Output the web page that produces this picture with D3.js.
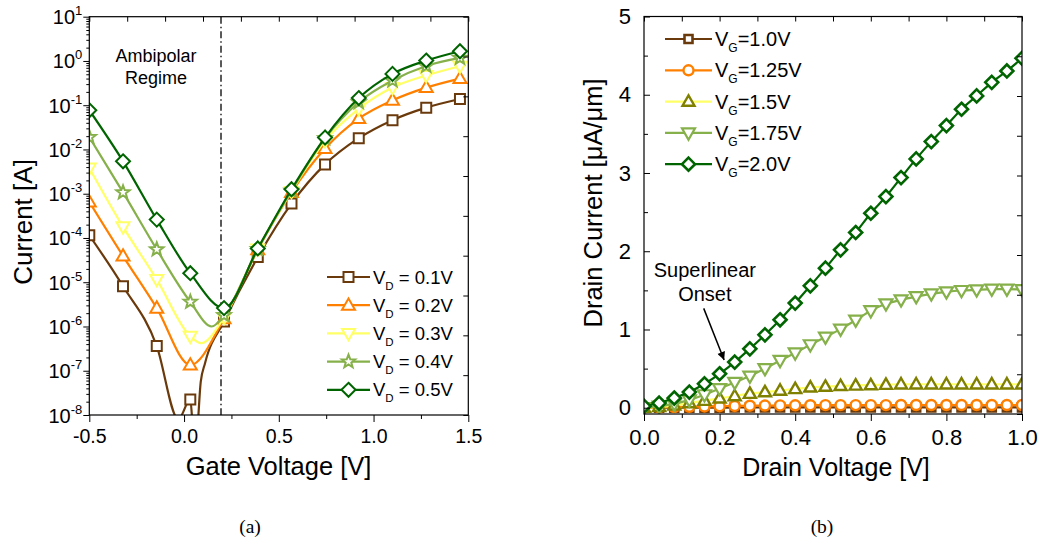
<!DOCTYPE html>
<html>
<head>
<meta charset="utf-8">
<script src="https://cdn.jsdelivr.net/npm/d3@7/dist/d3.min.js"></script>
<style>
html,body{margin:0;padding:0;background:#fff;}
svg{display:block;}
</style>
</head>
<body>
<svg id="chart" width="1042" height="546"></svg>
<script>
// ===================== Panel (a) data : Id - Vg (log) =====================
const gateVoltage = [-0.5, -0.322, -0.144, 0.033, 0.211, 0.389, 0.567, 0.744, 0.922, 1.1, 1.278, 1.456];
const vdLabels = ["0.1V", "0.2V", "0.3V", "0.4V", "0.5V"];
const currentVd01 = [1.15e-4, 8.1e-6, 3.6e-7, 2.25e-8, 1.3e-6, 3.7e-5, 6.0e-4, 4.6e-3, 1.8e-2, 4.6e-2, 8.8e-2, 1.38e-1];
const currentVd02 = [6.5e-4, 3.9e-5, 2.6e-6, 1.35e-7, 1.5e-6, 5.4e-5, 1.07e-3, 1.05e-2, 5.0e-2, 1.29e-1, 2.5e-1, 4.0e-1];
const currentVd03 = [3.8e-3, 1.78e-4, 1.15e-5, 6.0e-7, 1.6e-6, 5.6e-5, 1.12e-3, 1.58e-2, 8.3e-2, 2.5e-1, 4.7e-1, 7.6e-1];
const currentVd04 = [1.9e-2, 1.07e-3, 5.5e-5, 3.6e-6, 1.8e-6, 5.6e-5, 1.17e-3, 1.78e-2, 1.17e-1, 3.6e-1, 7.7e-1, 1.17];
const currentVd05 = [7.7e-2, 5.4e-3, 2.6e-4, 1.6e-5, 2.6e-6, 5.8e-5, 1.26e-3, 1.86e-2, 1.45e-1, 5.1e-1, 1.02, 1.66];
// extra measured points of the curves between the markers ([Vg, I])
const extraVd01 = [[-0.03, 8e-9], [0.05, 4e-9], [0.066, 4e-9], [0.088, 5.6e-8], [0.111, 1.5e-7]];
const extraVd02 = [];
const extraVd03 = [[0.09, 4.2e-7]];
const extraVd04 = [[0.146, 1.0e-6]];
const extraVd05 = [];
const ambipolarBoundary = 0.195;
const xTicksA = [-0.5, 0, 0.5, 1.0, 1.5];
const xMinorA = [-0.25, 0.25, 0.75, 1.25];
const yTicksA = [1e-8, 1e-7, 1e-6, 1e-5, 1e-4, 1e-3, 1e-2, 1e-1, 1e0, 1e1];

// ===================== Panel (b) data : Id - Vd (linear) =====================
const drainVoltage = [0, 0.04, 0.08, 0.12, 0.16, 0.2, 0.24, 0.28, 0.32, 0.36, 0.4, 0.44, 0.48, 0.52, 0.56, 0.6, 0.64, 0.68, 0.72, 0.76, 0.8, 0.84, 0.88, 0.92, 0.96, 1.0];
const vgLabels = ["1.0V", "1.25V", "1.5V", "1.75V", "2.0V"];
const currentVg10 = [0, 0, 0.001, 0.001, 0.002, 0.002, 0.003, 0.003, 0.004, 0.004, 0.004, 0.005, 0.005, 0.005, 0.005, 0.005, 0.005, 0.005, 0.005, 0.005, 0.005, 0.005, 0.005, 0.005, 0.005, 0.005];
const currentVg125 = [0, 0.004, 0.008, 0.012, 0.016, 0.02, 0.023, 0.026, 0.028, 0.03, 0.031, 0.032, 0.033, 0.033, 0.034, 0.034, 0.034, 0.035, 0.035, 0.035, 0.035, 0.035, 0.035, 0.035, 0.035, 0.035];
const currentVg15 = [0, 0.01, 0.03, 0.06, 0.09, 0.12, 0.15, 0.18, 0.2, 0.22, 0.24, 0.26, 0.27, 0.28, 0.285, 0.29, 0.295, 0.3, 0.3, 0.3, 0.3, 0.3, 0.3, 0.3, 0.3, 0.3];
const currentVg175 = [0, 0.02, 0.05, 0.1, 0.166, 0.245, 0.325, 0.405, 0.5, 0.605, 0.7, 0.805, 0.903, 1.005, 1.12, 1.24, 1.328, 1.379, 1.42, 1.456, 1.481, 1.498, 1.507, 1.516, 1.516, 1.51];
const currentVg20 = [0.02, 0.06, 0.124, 0.2, 0.306, 0.434, 0.583, 0.753, 0.932, 1.124, 1.337, 1.558, 1.784, 2.018, 2.24, 2.486, 2.699, 2.941, 3.18, 3.401, 3.606, 3.815, 3.985, 4.159, 4.304, 4.466];
const xTicksB = [0, 0.2, 0.4, 0.6, 0.8, 1.0];
const xMinorB = [0.1, 0.3, 0.5, 0.7, 0.9];
const yTicksB = [0, 1, 2, 3, 4, 5];
const yMinorB = [0.5, 1.5, 2.5, 3.5, 4.5];

// ===================== drawing =====================
const SANS = "'Liberation Sans', Arial, Helvetica, sans-serif";
const SERIF = "'Liberation Serif', 'DejaVu Serif', serif";
const svg = d3.select("#chart");
const defs = svg.append("defs");

function markerPath(type, s) {
  const h = s * 0.87;
  switch (type) {
    case "square": return `M${-s/2},${-s/2}h${s}v${s}h${-s}Z`;
    case "diamond": return `M0,${-s/2}L${s/2},0L0,${s/2}L${-s/2},0Z`;
    case "triUp": return `M0,${-h*0.6}L${s/2},${h*0.4}L${-s/2},${h*0.4}Z`;
    case "triDown": return `M0,${h*0.6}L${s/2},${-h*0.4}L${-s/2},${-h*0.4}Z`;
    case "circle": { const r = s/2; return `M${r},0A${r},${r} 0 1,1 ${-r},0A${r},${r} 0 1,1 ${r},0Z`; }
    case "star": {
      const R = s/2, r = s*0.21; let p = "";
      for (let k = 0; k < 10; k++) {
        const rad = k % 2 ? r : R, a = -Math.PI/2 + k*Math.PI/5;
        p += (k ? "L" : "M") + (rad*Math.cos(a)).toFixed(2) + "," + (rad*Math.sin(a)).toFixed(2);
      }
      return p + "Z";
    }
  }
}
function styleAxis(g) {
  g.select(".domain").remove();
  g.selectAll("line").attr("stroke", "#000").attr("stroke-width", 1);
  g.attr("font-family", SANS);
}

// ---------- Panel (a)
const A = {left: 89.3, right: 468.3, top: 16.7, bottom: 415};
const xA = d3.scaleLinear().domain([-0.5, 1.5]).range([A.left, A.right]);
const yA = d3.scaleLog().domain([1e-8, 10]).range([A.bottom, A.top]);
defs.append("clipPath").attr("id", "clipA").append("rect")
  .attr("x", A.left).attr("y", A.top).attr("width", A.right - A.left).attr("height", A.bottom - A.top);

const seriesA = [
  {label: vdLabels[0], values: currentVd01, extra: extraVd01, color: "#6b3a0c", marker: "square", size: 10},
  {label: vdLabels[1], values: currentVd02, extra: extraVd02, color: "#ff8000", marker: "triUp", size: 13},
  {label: vdLabels[2], values: currentVd03, extra: extraVd03, color: "#ffff66", marker: "triDown", size: 13},
  {label: vdLabels[3], values: currentVd04, extra: extraVd04, color: "#86b04a", marker: "star", size: 14},
  {label: vdLabels[4], values: currentVd05, extra: extraVd05, color: "#006400", marker: "diamond", size: 14}
];
const lineA = d3.line().x(d => xA(d[0])).y(d => yA(d[1])).curve(d3.curveMonotoneX);
const plotA = svg.append("g").attr("clip-path", "url(#clipA)");
plotA.append("line")
  .attr("x1", xA(ambipolarBoundary)).attr("x2", xA(ambipolarBoundary))
  .attr("y1", A.top).attr("y2", A.bottom)
  .attr("stroke", "#000").attr("stroke-width", 1.3).attr("stroke-dasharray", "7,3,1.5,3");
seriesA.forEach(s => {
  const marks = gateVoltage.map((v, i) => [v, s.values[i]]);
  const pts = marks.concat(s.extra).sort((a, b) => a[0] - b[0]);
  plotA.append("path").attr("d", lineA(pts)).attr("fill", "none")
    .attr("stroke", s.color).attr("stroke-width", 2.2);
  plotA.selectAll(null).data(marks).join("path")
    .attr("transform", d => `translate(${xA(d[0])},${yA(d[1])})`)
    .attr("d", markerPath(s.marker, s.size))
    .attr("fill", "#fff").attr("stroke", s.color).attr("stroke-width", 2);
});

// axes (a)
svg.append("g").attr("transform", `translate(0,${A.bottom})`)
  .call(d3.axisBottom(xA).tickValues(xTicksA).tickSize(7).tickPadding(7).tickFormat(d => d.toFixed(1)))
  .call(styleAxis).selectAll("text").attr("font-size", 19.5).attr("fill", "#000");
svg.append("g").attr("transform", `translate(0,${A.bottom})`)
  .call(d3.axisBottom(xA).tickValues(xMinorA).tickSize(4).tickFormat(""))
  .call(styleAxis);
svg.append("g").attr("transform", `translate(${A.left},0)`)
  .call(d3.axisLeft(yA).tickValues(yTicksA).tickSize(6).tickFormat(""))
  .call(styleAxis);
const yMinorA = yTicksA.slice(0, -1).flatMap(d => [2, 3, 4, 5, 6, 7, 8, 9].map(m => d * m));
svg.append("g").attr("transform", `translate(${A.left},0)`)
  .call(d3.axisLeft(yA).tickValues(yMinorA).tickSize(3).tickFormat(""))
  .call(styleAxis);
const frameDivA_y = d3.scaleLinear().domain([0, 10]).range([A.bottom, A.top]);
const frameDivA_x = d3.scaleLinear().domain([0, 10]).range([A.left, A.right]);
svg.append("g").attr("transform", `translate(${A.right},0)`)
  .call(d3.axisRight(frameDivA_y).ticks(10).tickSize(-5).tickFormat("")).call(styleAxis);
svg.append("g").attr("transform", `translate(0,${A.top})`)
  .call(d3.axisTop(frameDivA_x).ticks(10).tickSize(-5).tickFormat("")).call(styleAxis);
const yLabA = svg.append("g").attr("font-family", SANS).attr("fill", "#000");
yTicksA.forEach(d => {
  const t = yLabA.append("text").attr("x", A.left - 7).attr("y", yA(d) + 7.5)
    .attr("text-anchor", "end").attr("font-size", 20);
  t.append("tspan").text("10");
  t.append("tspan").attr("font-size", 13).attr("dy", -9).text(String(Math.round(Math.log10(d))));
});
svg.append("rect").attr("x", A.left).attr("y", A.top).attr("width", A.right - A.left)
  .attr("height", A.bottom - A.top).attr("fill", "none").attr("stroke", "#000").attr("stroke-width", 1.2);

// annotation (a)
const ambiText = [["Ambipolar", -0.148, 0.93], ["Regime", -0.148, 0.296]];
svg.selectAll(null).data(ambiText).join("text")
  .attr("x", d => xA(d[1])).attr("y", d => yA(d[2])).attr("text-anchor", "middle")
  .attr("font-family", SANS).attr("font-size", 18).text(d => d[0]);

// legend (a)
const legA = svg.append("g").attr("font-family", SANS);
seriesA.forEach((s, i) => {
  const y = 277 + i * 28.2;
  legA.append("line").attr("x1", 327).attr("x2", 370).attr("y1", y).attr("y2", y)
    .attr("stroke", s.color).attr("stroke-width", 2.2);
  legA.append("path").attr("transform", `translate(348.5,${y})`).attr("d", markerPath(s.marker, s.size))
    .attr("fill", "#fff").attr("stroke", s.color).attr("stroke-width", 2);
  const t = legA.append("text").attr("x", 373).attr("y", y + 6.6).attr("font-size", 18.5);
  t.append("tspan").text("V");
  t.append("tspan").attr("font-size", 11.5).attr("dy", 6).text("D");
  t.append("tspan").attr("dy", -6).text(" = " + s.label);
});

// titles (a)
svg.append("text").attr("transform", "translate(32,222) rotate(-90)").attr("text-anchor", "middle")
  .attr("font-family", SANS).attr("font-size", 26).text("Current [A]");
svg.append("text").attr("x", 278.5).attr("y", 475).attr("text-anchor", "middle")
  .attr("font-family", SANS).attr("font-size", 25.5).text("Gate Voltage [V]");
svg.append("text").attr("x", 250).attr("y", 533).attr("text-anchor", "middle")
  .attr("font-family", SERIF).attr("font-size", 19.5).text("(a)");

// ---------- Panel (b)
const B = {left: 644, right: 1022, top: 16.5, bottom: 414};
const xB = d3.scaleLinear().domain([0, 1]).range([B.left, B.right]);
const yB = d3.scaleLinear().domain([-0.08, 5]).range([B.bottom, B.top]);
defs.append("clipPath").attr("id", "clipB").append("rect")
  .attr("x", B.left).attr("y", B.top).attr("width", B.right - B.left).attr("height", B.bottom - B.top);

const seriesB = [
  {label: vgLabels[0], values: currentVg10, color: "#6b3a0c", mcolor: "#6b3a0c", marker: "square", size: 8, sw: 2.6},
  {label: vgLabels[1], values: currentVg125, color: "#ff8000", mcolor: "#ff8000", marker: "circle", size: 10, sw: 2.4},
  {label: vgLabels[2], values: currentVg15, color: "#ffff66", mcolor: "#808000", marker: "triUp", size: 12, sw: 2.4},
  {label: vgLabels[3], values: currentVg175, color: "#86b04a", mcolor: "#86b04a", marker: "triDown", size: 13, sw: 2.2},
  {label: vgLabels[4], values: currentVg20, color: "#006400", mcolor: "#006400", marker: "diamond", size: 13, sw: 2.6}
];
const lineB = d3.line().x(d => xB(d[0])).y(d => yB(d[1])).curve(d3.curveMonotoneX);
const plotB = svg.append("g").attr("clip-path", "url(#clipB)");
seriesB.forEach(s => {
  const pts = drainVoltage.map((v, i) => [v, s.values[i]]);
  plotB.append("path").attr("d", lineB(pts)).attr("fill", "none")
    .attr("stroke", s.color).attr("stroke-width", 2.2);
  plotB.selectAll(null).data(pts).join("path")
    .attr("transform", d => `translate(${xB(d[0])},${yB(d[1])})`)
    .attr("d", markerPath(s.marker, s.size))
    .attr("fill", "#fff").attr("stroke", s.mcolor).attr("stroke-width", s.sw);
});

// axes (b)
svg.append("g").attr("transform", `translate(0,${B.bottom})`)
  .call(d3.axisBottom(xB).tickValues(xTicksB).tickSize(7).tickPadding(8).tickFormat(d => d.toFixed(1)))
  .call(styleAxis).selectAll("text").attr("font-size", 22).attr("fill", "#000");
svg.append("g").attr("transform", `translate(0,${B.bottom})`)
  .call(d3.axisBottom(xB).tickValues(xMinorB).tickSize(4).tickFormat(""))
  .call(styleAxis);
svg.append("g").attr("transform", `translate(${B.left},0)`)
  .call(d3.axisLeft(yB).tickValues(yTicksB).tickSize(-6).tickPadding(13).tickFormat(d => String(d)))
  .call(styleAxis).selectAll("text").attr("font-size", 22).attr("fill", "#000");
svg.append("g").attr("transform", `translate(${B.left},0)`)
  .call(d3.axisLeft(yB).tickValues(yMinorB).tickSize(-4).tickFormat(""))
  .call(styleAxis);
const frameDivB_y = d3.scaleLinear().domain([0, 10]).range([B.bottom, B.top]);
const frameDivB_x = d3.scaleLinear().domain([0, 10]).range([B.left, B.right]);
svg.append("g").attr("transform", `translate(${B.right},0)`)
  .call(d3.axisRight(frameDivB_y).ticks(10).tickSize(-5).tickFormat("")).call(styleAxis);
svg.append("g").attr("transform", `translate(0,${B.top})`)
  .call(d3.axisTop(frameDivB_x).ticks(10).tickSize(-5).tickFormat("")).call(styleAxis);
svg.append("rect").attr("x", B.left).attr("y", B.top).attr("width", B.right - B.left)
  .attr("height", B.bottom - B.top).attr("fill", "none").attr("stroke", "#000").attr("stroke-width", 1.2);

// annotation (b)
const superText = [["Superlinear", 0.161, 1.67], ["Onset", 0.161, 1.36]];
svg.selectAll(null).data(superText).join("text")
  .attr("x", d => xB(d[1])).attr("y", d => yB(d[2])).attr("text-anchor", "middle")
  .attr("font-family", SANS).attr("font-size", 20).text(d => d[0]);
const arrowFrom = [0.158, 1.27], arrowTo = [0.212, 0.61];
defs.append("marker").attr("id", "arrowHead").attr("viewBox", "0 0 10 10")
  .attr("refX", 10).attr("refY", 5).attr("markerUnits", "userSpaceOnUse")
  .attr("markerWidth", 11).attr("markerHeight", 8).attr("orient", "auto")
  .append("path").attr("d", "M0,0L10,5L0,10Z").attr("fill", "#000");
svg.append("line").attr("x1", xB(arrowFrom[0])).attr("y1", yB(arrowFrom[1]))
  .attr("x2", xB(arrowTo[0])).attr("y2", yB(arrowTo[1]))
  .attr("stroke", "#000").attr("stroke-width", 1.5).attr("marker-end", "url(#arrowHead)");

// legend (b)
const legB = svg.append("g").attr("font-family", SANS);
seriesB.forEach((s, i) => {
  const y = 39 + i * 31.3;
  legB.append("line").attr("x1", 665).attr("x2", 712).attr("y1", y).attr("y2", y)
    .attr("stroke", s.color).attr("stroke-width", 2.2);
  legB.append("path").attr("transform", `translate(688.5,${y})`).attr("d", markerPath(s.marker, s.size))
    .attr("fill", "#fff").attr("stroke", s.mcolor).attr("stroke-width", s.sw);
  const t = legB.append("text").attr("x", 715).attr("y", y + 7).attr("font-size", 20);
  t.append("tspan").text("V");
  t.append("tspan").attr("font-size", 12).attr("dy", 6).text("G");
  t.append("tspan").attr("dy", -6).text("=" + s.label);
});

// titles (b)
svg.append("text").attr("transform", "translate(602,203) rotate(-90)").attr("text-anchor", "middle")
  .attr("font-family", SANS).attr("font-size", 25.5).text("Drain Current [\u03bcA/\u03bcm]");
svg.append("text").attr("x", 836).attr("y", 476).attr("text-anchor", "middle")
  .attr("font-family", SANS).attr("font-size", 25).text("Drain Voltage [V]");
svg.append("text").attr("x", 822).attr("y", 533).attr("text-anchor", "middle")
  .attr("font-family", SERIF).attr("font-size", 19.5).text("(b)");
</script>
</body>
</html>
